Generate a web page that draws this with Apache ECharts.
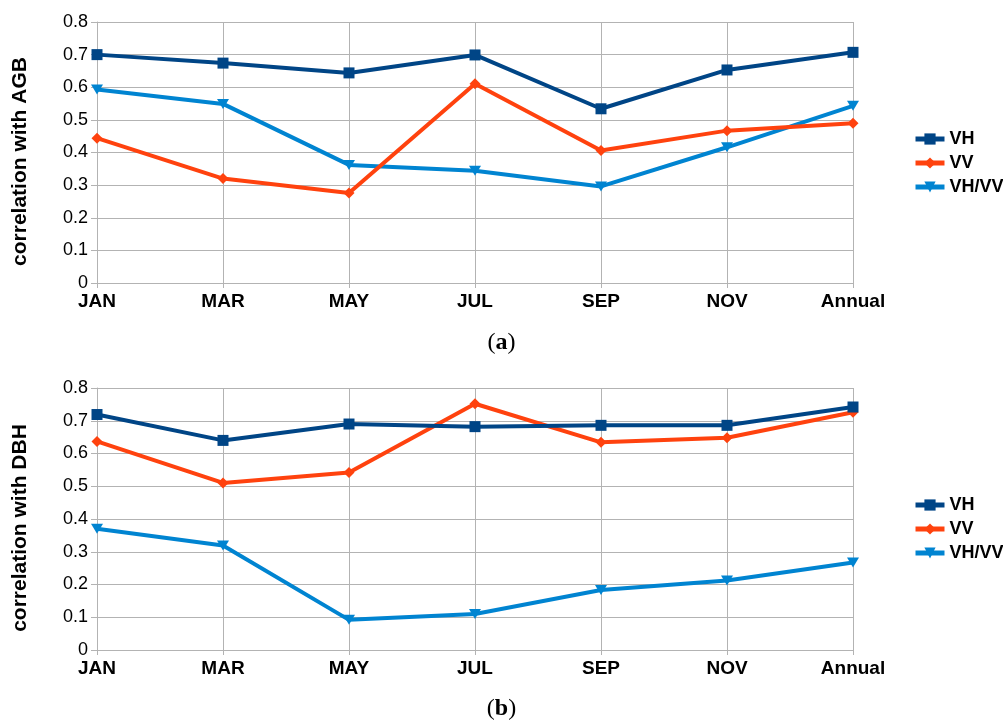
<!DOCTYPE html>
<html>
<head>
<meta charset="utf-8">
<script src="https://cdn.jsdelivr.net/npm/echarts@6/dist/echarts.min.js"></script>
<style>
  html, body { margin: 0; padding: 0; background: #fff; }
  #chart { width: 1003px; height: 720px; }
</style>
</head>
<body>
<div id="chart"></div>
<script>
// categories and series
const months = ['JAN', 'MAR', 'MAY', 'JUL', 'SEP', 'NOV', 'Annual']
const seriesNames = ['VH', 'VV', 'VH/VV']

// (a) correlation with AGB
const agbVH = [0.70, 0.674, 0.644, 0.699, 0.534, 0.653, 0.707]
const agbVV = [0.444, 0.320, 0.276, 0.611, 0.406, 0.467, 0.490]
const agbRatio = [0.593, 0.549, 0.362, 0.344, 0.296, 0.416, 0.543]

// (b) correlation with DBH
const dbhVH = [0.719, 0.640, 0.690, 0.682, 0.686, 0.686, 0.742]
const dbhVV = [0.637, 0.510, 0.542, 0.752, 0.634, 0.648, 0.726]
const dbhRatio = [0.370, 0.319, 0.092, 0.110, 0.183, 0.212, 0.267]

const yTicks = { min: 0, max: 0.8, interval: 0.1 }

const colors = { VH: '#004586', VV: '#ff420e', 'VH/VV': '#0084d1' }
const symbols = {
  VH: { symbol: 'rect', symbolSize: 11, symbolRotate: 0 },
  VV: { symbol: 'diamond', symbolSize: [11, 11], symbolRotate: 0 },
  'VH/VV': { symbol: 'triangle', symbolSize: [12, 10], symbolRotate: 180 }
}

const chart = echarts.init(document.getElementById('chart'))

const gridLine = { show: true, lineStyle: { color: '#b3b3b3', width: 1 } }

const makeX = (gridIndex) => ({
  type: 'category',
  gridIndex,
  data: months,
  boundaryGap: false,
  axisLine: { lineStyle: { color: '#b3b3b3' } },
  axisTick: { show: true, length: 5, lineStyle: { color: '#b3b3b3' } },
  axisLabel: {
    color: '#000', fontFamily: 'Liberation Sans', fontWeight: 'bold',
    fontSize: 19, margin: 9
  },
  splitLine: gridLine
})

const makeY = (gridIndex, name) => ({
  type: 'value',
  gridIndex,
  min: yTicks.min,
  max: yTicks.max,
  interval: yTicks.interval,
  name,
  nameLocation: 'middle',
  nameRotate: 90,
  nameGap: 66,
  nameTextStyle: {
    color: '#000', fontFamily: 'Liberation Sans', fontWeight: 'bold', fontSize: 21,
    padding: [0, 18, 0, 0]
  },
  axisLine: { show: true, lineStyle: { color: '#b3b3b3' } },
  axisTick: { show: true, length: 6, lineStyle: { color: '#b3b3b3' } },
  axisLabel: {
    color: '#000', fontFamily: 'Liberation Sans', fontSize: 18, margin: 9
  },
  splitLine: gridLine
})

const makeSeries = (name, data, idx) => ({
  name,
  type: 'line',
  xAxisIndex: idx,
  yAxisIndex: idx,
  data,
  ...symbols[name],
  showAllSymbol: true,
  lineStyle: { width: 4, color: colors[name] },
  itemStyle: { color: colors[name] },
  emphasis: { disabled: true },
  z: name === 'VH' ? 4 : (name === 'VV' ? 3 : 2)
})

const makeLegend = (top) => ({
  orient: 'vertical',
  left: 908,
  top,
  itemWidth: 29,
  itemHeight: 14,
  itemGap: 6,
  data: seriesNames,
  lineStyle: { width: 5 },
  textStyle: {
    color: '#000', fontFamily: 'Liberation Sans', fontWeight: 'bold', fontSize: 18,
    lineHeight: 18
  },
  selectedMode: false
})

const caption = (letter, top) => ({
  text: '{p|(}{b|' + letter + '}{p|)}',
  left: 'center',
  top,
  textStyle: {
    rich: {
      p: { fontFamily: 'Liberation Serif', fontSize: 24, fontWeight: 'normal', color: '#000' },
      b: { fontFamily: 'Liberation Serif', fontSize: 24, fontWeight: 'bold', color: '#000' }
    }
  }
})

chart.setOption({
  animation: false,
  backgroundColor: '#fff',
  title: [caption('a', 326), caption('b', 692)],
  legend: [makeLegend(125), makeLegend(491)],
  grid: [
    { left: 97, right: 150, top: 22, height: 261 },
    { left: 97, right: 150, top: 388, height: 262 }
  ],
  xAxis: [makeX(0), makeX(1)],
  yAxis: [makeY(0, 'correlation with AGB'), makeY(1, 'correlation with DBH')],
  series: [
    makeSeries('VH', agbVH, 0),
    makeSeries('VV', agbVV, 0),
    makeSeries('VH/VV', agbRatio, 0),
    makeSeries('VH', dbhVH, 1),
    makeSeries('VV', dbhVV, 1),
    makeSeries('VH/VV', dbhRatio, 1)
  ]
})
</script>
</body>
</html>
